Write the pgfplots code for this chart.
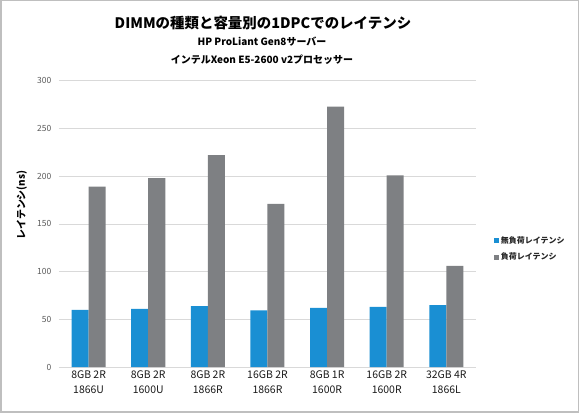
\documentclass[border=0pt]{standalone}
\usepackage{fontspec}
\setmainfont{Noto Sans CJK JP}
\usepackage{pgfplots}
\pgfplotsset{compat=1.18}
\definecolor{barblue}{HTML}{1A8FD3}
\definecolor{bargray}{HTML}{7E8083}
\definecolor{gridc}{HTML}{D9D9D9}
\definecolor{framec}{HTML}{BFBFBF}
\definecolor{tickc}{HTML}{595959}
\begin{document}
\begin{tikzpicture}
\draw[framec, line width=1.5bp] (1bp,1bp) rectangle (578bp,412bp);
\begin{axis}[
  at={(59bp,46bp)}, anchor=south west,
  width=417bp, height=286bp, scale only axis,
  xmin=-0.5, xmax=6.5, ymin=0, ymax=300,
  ybar=0pt, bar width=17bp,
  xtick=data,
  xticklabels={{8GB 2R\\1866U},{8GB 2R\\1600U},{8GB 2R\\1866R},{16GB 2R\\1866R},{8GB 1R\\1600R},{16GB 2R\\1600R},{32GB 4R\\1866L}},
  xticklabel style={align=center, font=\fontsize{10.5}{15.5}\selectfont, text=black!90},
  ytick={0,50,...,300},
  yticklabel style={font=\fontsize{8.5}{9}\selectfont, text=tickc, xshift=-4bp},
  /pgf/number format/assume math mode=true,
  ymajorgrids, grid style={gridc, line width=0.8bp},
  axis line style={draw=none},
  major tick length=0pt,
  ylabel={\bfseries レイテンシ(ns)},
  ylabel style={at={(rel axis cs:-0.089,0.566)}, anchor=center, font=\fontsize{10}{12}\selectfont},
  legend style={at={(rel axis cs:1.035,0.413)}, anchor=west, draw=none, fill=none,
    font=\bfseries\fontsize{8}{10}\selectfont, text=black!85, row sep=4bp, cells={anchor=west}},
  legend image code/.code={\fill[#1] (0bp,-2.5bp) rectangle (5bp,2.5bp);},
]
\addplot[fill=barblue, draw=none] coordinates {(0,60) (1,61) (2,64) (3,59.5) (4,62) (5,63) (6,65)};
\addplot[fill=bargray, draw=none] coordinates {(0,189) (1,198) (2,222) (3,171) (4,273) (5,201) (6,106)};
\legend{無負荷レイテンシ,負荷レイテンシ}
\end{axis}
\node[font=\bfseries\fontsize{14.5}{16}\selectfont] at (263bp,390bp) {DIMMの種類と容量別の1DPCでのレイテンシ};
\node[font=\bfseries\fontsize{10}{11}\selectfont] at (262bp,371bp) {HP ProLiant Gen8サーバー};
\node[font=\bfseries\fontsize{10}{11}\selectfont] at (262bp,353bp) {インテルXeon E5-2600 v2プロセッサー};
\end{tikzpicture}
\end{document}
